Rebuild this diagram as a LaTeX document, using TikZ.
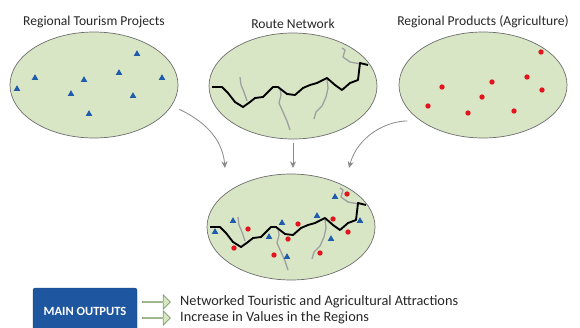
\documentclass[tikz,border=0pt]{standalone}
\usepackage{fontspec}
\setmainfont{Carlito}
\usetikzlibrary{shapes.geometric, shapes.arrows, arrows.meta, positioning}
\definecolor{meadow}{HTML}{D8E6C6}
\definecolor{rimgray}{HTML}{6E6E6E}
\definecolor{tripblue}{HTML}{1F5CAB}
\definecolor{cropred}{HTML}{E2141E}
\definecolor{outblue}{HTML}{1E56A0}
\definecolor{leafgreen}{HTML}{D6E6C2}
\definecolor{leafedge}{HTML}{7E9A6C}
\definecolor{flowgray}{HTML}{8A8A8A}

% route network, drawn in pixel units of the picture
\newcommand{\routenet}{%
  \draw[branch] (247,101) -- (244,92) -- (241,85) -- (240,77);
  \draw[branch] (280,88) -- (281,95) -- (279,103) -- (283,112) -- (287,121) -- (290,130);
  \draw[branch] (327,79) -- (328,88) -- (326,97) -- (322,106) -- (316,112) -- (314,119);
  \draw[branch] (361,64) -- (350,62) -- (343,57) -- (345,50) -- (342,48);
  \draw[mainroute] (212,87) -- (222,87) -- (228,93) -- (235,102) -- (243,107) -- (250,102)
    -- (255,98) -- (263,97) -- (270,90) -- (273,87) -- (278,87) -- (287,94) -- (295,95)
    -- (303,88) -- (310,85) -- (317,83) -- (327,78) -- (335,85) -- (342,90) -- (350,83)
    -- (358,80) -- (360,63) -- (368,65);
}
\newcommand{\tripspots}{(137,54), (35,78), (84,80), (119,73), (162,78), (17,89), (71,94), (133,96), (89,114)}
\newcommand{\cropspots}{(541,52), (442,87), (492,82), (527,77), (542,90), (482,97), (428,106), (468,113), (514,111)}

\begin{document}
\begin{tikzpicture}[
  x=0.3mm, y=-0.3mm,
  region/.style={ellipse, draw=rimgray, line width=0.6pt, fill=meadow, minimum width=50.4mm, minimum height=31.8mm, inner sep=0pt},
  title/.style={font=\fontsize{11.6}{13}\selectfont, text=black!85, inner sep=1pt},
  tripmark/.style={regular polygon, regular polygon sides=3, fill=tripblue, inner sep=0pt, minimum size=2.3mm},
  cropdot/.style={circle, fill=cropred, inner sep=0pt, minimum size=1.6mm},
  mainroute/.style={line width=1.6pt, line join=round, black},
  branch/.style={line width=1.1pt, line join=round, gray!75},
  flow/.style={-{Stealth[length=2mm, width=1.8mm]}, flowgray, line width=0.7pt},
  outbox/.style={rectangle, rounded corners=2pt, fill=outblue, draw=outblue!80!black, text=white, font=\fontsize{10.7}{12}\selectfont\bfseries, minimum width=31.2mm, minimum height=13.8mm},
  hollow/.style={single arrow, draw=leafedge, fill=leafgreen, line width=0.6pt, inner sep=0pt, minimum height=8.4mm, minimum width=4.2mm, single arrow head extend=1.1mm},
  outtext/.style={anchor=west, font=\fontsize{12.2}{14}\selectfont, text=black!85, inner sep=0pt}
]
  \useasboundingbox (0,0) rectangle (580,327);

  % three source regions
  \node[region] (tourism) at (94,85) {};
  \node[region] (route) at (293,86) {};
  \node[region] (products) at (483,85) {};
  \node[region] (combined) at (291,227) {};

  \node[title, above=2pt of tourism] (tourismtitle) {Regional Tourism Projects};
  \node[title, above=2pt of route] (routetitle) {Route Network};
  \node[title, above=2pt of products] (productstitle) {Regional Products (Agriculture)};

  % markers
  \foreach \p [count=\i] in \tripspots
    \node[tripmark] (trip-\i) at \p {};
  \foreach \p [count=\i] in \cropspots
    \node[cropdot] (crop-\i) at \p {};
  \routenet

  % combined region
  \begin{scope}[shift={(-2,140)}]
    \routenet
  \end{scope}
  \begin{scope}[shift={(198,143)}]
    \foreach \p [count=\i] in \tripspots
      \node[tripmark] (ctrip-\i) at \p {};
  \end{scope}
  \begin{scope}[shift={(-194,142)}]
    \foreach \p [count=\i] in \cropspots
      \node[cropdot] (ccrop-\i) at \p {};
  \end{scope}

  % flows into the combined region
  \coordinate (tipL) at (225,168);
  \coordinate (tipM) at (293,168);
  \coordinate (tipR) at (349,168);
  \draw[flow, shorten <=2.5mm] (tourism.-15) to[out=-25, in=95] (tipL);
  \draw[flow, shorten <=1mm] (route.south) -- (tipM);
  \draw[flow, shorten <=4mm] (products.210) to[out=180, in=75] (tipR);

  % outputs
  \node[outbox] (outputs) at (85,311) {MAIN OUTPUTS};
  \node[hollow] (arrowA) at (156,302) {};
  \node[hollow] (arrowB) at (156,318) {};
  \node[outtext] (textA) at (180,302) {Networked Touristic and Agricultural Attractions};
  \node[outtext] (textB) at (180,318) {Increase in Values in the Regions};
\end{tikzpicture}
\end{document}
